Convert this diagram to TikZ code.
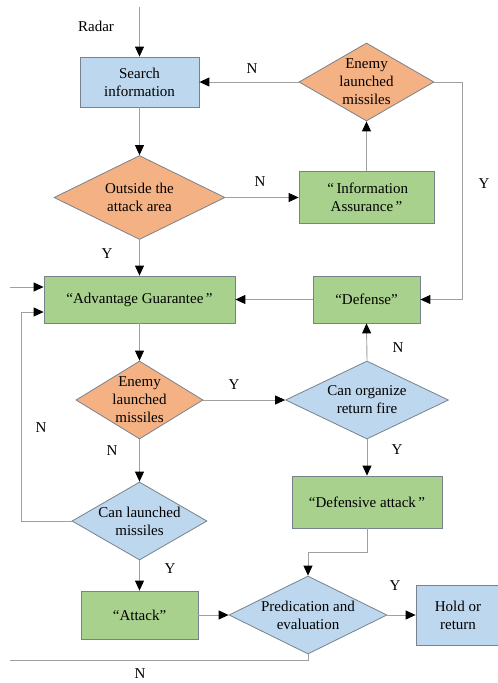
\documentclass[tikz,border=0pt]{standalone}
\usepackage{fontspec}
\setmainfont{Liberation Serif}
\usetikzlibrary{shapes.geometric,arrows.meta}

\definecolor{fillblue}{RGB}{189,215,238}
\definecolor{fillorange}{RGB}{244,177,131}
\definecolor{fillgreen}{RGB}{169,209,142}
\definecolor{edgegray}{RGB}{120,130,140}
\definecolor{linegray}{RGB}{160,160,160}

\begin{document}
\begin{tikzpicture}[x=1pt,y=-1pt,
  font=\fontsize{15}{18}\selectfont,
  box/.style={rectangle, draw=edgegray, line width=0.8pt, align=center, inner sep=0pt},
  dia/.style={diamond, draw=edgegray, line width=0.8pt, inner sep=0pt},
  txt/.style={align=center, inner sep=0pt},
  wire/.style={draw=linegray, line width=0.9pt},
  arr/.style={wire, -{Triangle[length=10pt,width=9pt,fill=black,color=black]}},
  lbl/.style={inner sep=0pt}
]
\useasboundingbox (0,0) rectangle (498,683);

% process boxes
\node[box, fill=fillblue, minimum width=119, minimum height=50] (search) at (139.5,82) {Search\\information};
\node[box, fill=fillgreen, minimum width=135, minimum height=52] (info) at (366.5,197.5) {\,“\,Information\\Assurance\,”};
\node[box, fill=fillgreen, minimum width=191, minimum height=47] (adv) at (139.5,299.5) {“Advantage Guarantee\,”};
\node[box, fill=fillgreen, minimum width=107, minimum height=47] (def) at (366.5,299.5) {“Defense”};
\node[box, fill=fillgreen, minimum width=150, minimum height=52] (defatk) at (367,502) {“Defensive attack\,”};
\node[box, fill=fillgreen, minimum width=117, minimum height=48] (atk) at (139.5,615) {“Attack”};
\node[box, fill=fillblue, minimum width=84, minimum height=60] (hold) at (458,615) {Hold or\\return};

% decision diamonds (outline) and their captions
\node[dia, fill=fillorange, minimum width=135, minimum height=78] (d1) at (366.5,82) {};
\node[txt] (d1t) at (d1) {Enemy\\launched\\missiles};
\node[dia, fill=fillorange, minimum width=171, minimum height=84] (d2) at (139.5,197.5) {};
\node[txt] (d2t) at (d2) {Outside the\\attack area};
\node[dia, fill=fillorange, minimum width=127, minimum height=78] (d3) at (139.5,400) {};
\node[txt] (d3t) at (d3) {Enemy\\launched\\missiles};
\node[dia, fill=fillblue, minimum width=163, minimum height=78] (d4) at (367,400) {};
\node[txt] (d4t) at (d4) {Can organize\\return fire};
\node[dia, fill=fillblue, minimum width=135, minimum height=78] (d5) at (139.5,521) {};
\node[txt] (d5t) at (d5) {Can launched\\missiles};
\node[dia, fill=fillblue, minimum width=158, minimum height=78] (d6) at (308,615) {};
\node[txt] (d6t) at (d6) {Predication and\\evaluation};

% free ends and bends
\coordinate (radar) at (139.5,7);
\coordinate (rightbus) at (462,82);
\coordinate (inleft) at (10,287);
\coordinate (loopleft) at (21,521);
\coordinate (looptop) at (21,312);
\coordinate (joinpt) at (367,552);
\coordinate (bottomleft) at (10,660);

% connectors
\draw[arr] (radar) -- (search.north);
\draw[arr] (search.south) -- (d2.north);
\draw[arr] (d2.east) -- (info.west);
\draw[arr] (info.north) -- (d1.south);
\draw[arr] (d1.west) -- (search.east);
\draw[arr] (d1.east) -- (rightbus) |- (def.east);
\draw[arr] (d2.south) -- (adv.north);
\draw[arr] (def.west) -- (adv.east);
\draw[arr] (inleft) -- (inleft -| adv.west);
\draw[arr] (adv.south) -- (d3.north);
\draw[arr] (d3.east) -- (d4.west);
\draw[arr] (d4.north) -- (def.south);
\draw[arr] (d4.south) -- (defatk.north);
\draw[arr] (d3.south) -- (d5.north);
\draw[arr] (d5.west) -- (loopleft) -- (looptop) -- (looptop -| adv.west);
\draw[arr] (d5.south) -- (atk.north);
\draw[arr] (atk.east) -- (d6.west);
\draw[arr] (defatk.south) -- (joinpt) -| (d6.north);
\draw[arr] (d6.east) -- (hold.west);
\draw[wire] (d6.south) |- (bottomleft);

% labels
\node[lbl] (lradar) at (96,26) {Radar};
\node[lbl] (ln1) at (252,69) {N};
\node[lbl] (ln2) at (260,182) {N};
\node[lbl] (ly1) at (484,184) {Y};
\node[lbl] (ly2) at (107,254) {Y};
\node[lbl] (ln3) at (398,348) {N};
\node[lbl] (ly3) at (234,385) {Y};
\node[lbl] (ln4) at (41,428) {N};
\node[lbl] (ln5) at (112,451) {N};
\node[lbl] (ly4) at (397,450) {Y};
\node[lbl] (ly5) at (170,569) {Y};
\node[lbl] (ly6) at (395,586) {Y};
\node[lbl] (ln6) at (140,674) {N};
\end{tikzpicture}
\end{document}
